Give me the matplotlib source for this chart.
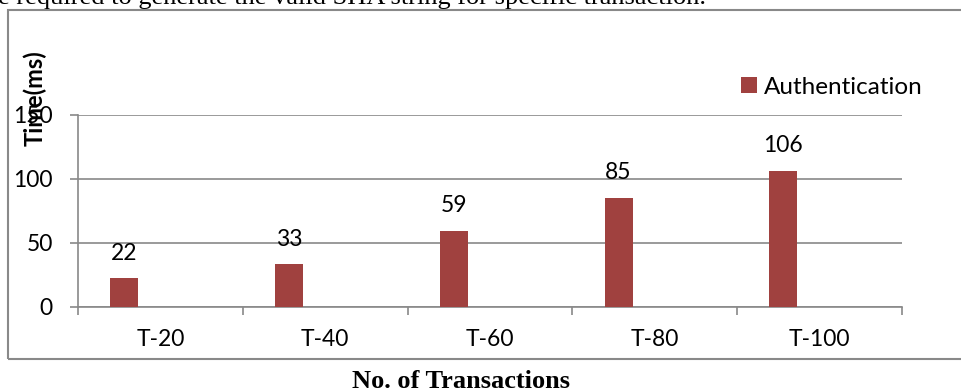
import matplotlib.pyplot as plt
import matplotlib.patches as patches
import numpy as np

# chart data
categories = ["T-20", "T-40", "T-60", "T-80", "T-100"]
auth_ms = [22, 33, 59, 85, 106]
series_name = "Authentication"

W, H = 961, 392
fig = plt.figure(figsize=(W / 100, H / 100), dpi=100)

gray = "#898989"
bar_color = "#A0413F"
sans = ["Lato", "DejaVu Sans"]
serif = ["Liberation Serif", "DejaVu Serif"]
fs = 16.5

# plot area in pixel terms -> figure fractions
left_px, right_px, top_px, bottom_px = 78, 902, 115, 306.5
ax = fig.add_axes([left_px / W, 1 - bottom_px / H,
                   (right_px - left_px) / W, (bottom_px - top_px) / H])

x = np.arange(len(categories))
ax.bar(x - 0.22, auth_ms, width=0.17, color=bar_color, label=series_name, zorder=3)

for xi, v in zip(x, auth_ms):
    ax.annotate(str(v), (xi - 0.22, v), xytext=(0, 13.5), textcoords="offset points",
                ha="center", va="baseline", fontsize=fs, family=sans)

ax.set_xlim(-0.5, len(categories) - 0.5)
ax.set_ylim(0, 150)
ax.set_yticks([0, 50, 100, 150])
ax.yaxis.grid(True, color=gray, linewidth=1.2, zorder=0)
ax.set_axisbelow(True)

# category labels in the middle, tick marks on the boundaries
ax.set_xticks(x)
ax.set_xticklabels(categories, family=sans, fontsize=fs)
ax.set_xticks(np.arange(len(categories) + 1) - 0.5, minor=True)
ax.tick_params(axis="x", which="major", length=0, pad=16)
ax.tick_params(axis="x", which="minor", length=6, width=1.2, color=gray, direction="out")
ax.tick_params(axis="y", length=6, width=1.2, color=gray, pad=12, labelsize=fs)
for lab in ax.get_yticklabels():
    lab.set_family(sans)

for s in ["top", "right"]:
    ax.spines[s].set_visible(False)
for s in ["left", "bottom"]:
    ax.spines[s].set_color(gray)
    ax.spines[s].set_linewidth(1.2)

# y title sits up by the top tick, like the original
fig.text(35 / W, 1 - 98 / H, "Time(ms)", rotation=90, ha="center", va="center",
         family=sans, fontsize=17, fontweight="bold")

leg = ax.legend(loc="center left", bbox_to_anchor=(741 / W, 1 - 87 / H),
                bbox_transform=fig.transFigure, frameon=False,
                prop={"family": sans, "size": 17.5}, handlelength=0.65,
                handleheight=0.65, handletextpad=0.3, borderpad=0, borderaxespad=0)

fig.text(461 / W, 1 - 381 / H, "No. of Transactions", ha="center", va="center",
         family=serif, fontsize=19, fontweight="bold")

fig.text(-2 / W, 1 - 4 / H, "e required to generate the valid SHA string for specific transaction.",
         ha="left", va="baseline", family=serif, fontsize=19)

# outer chart border (runs off the right edge)
fig.patches.append(patches.Rectangle((8 / W, 1 - 359 / H), 1.05, (359 - 10) / H,
                                     transform=fig.transFigure, fill=False,
                                     edgecolor=gray, linewidth=1.5, clip_on=False))

fig.savefig("out.png", dpi=100)
